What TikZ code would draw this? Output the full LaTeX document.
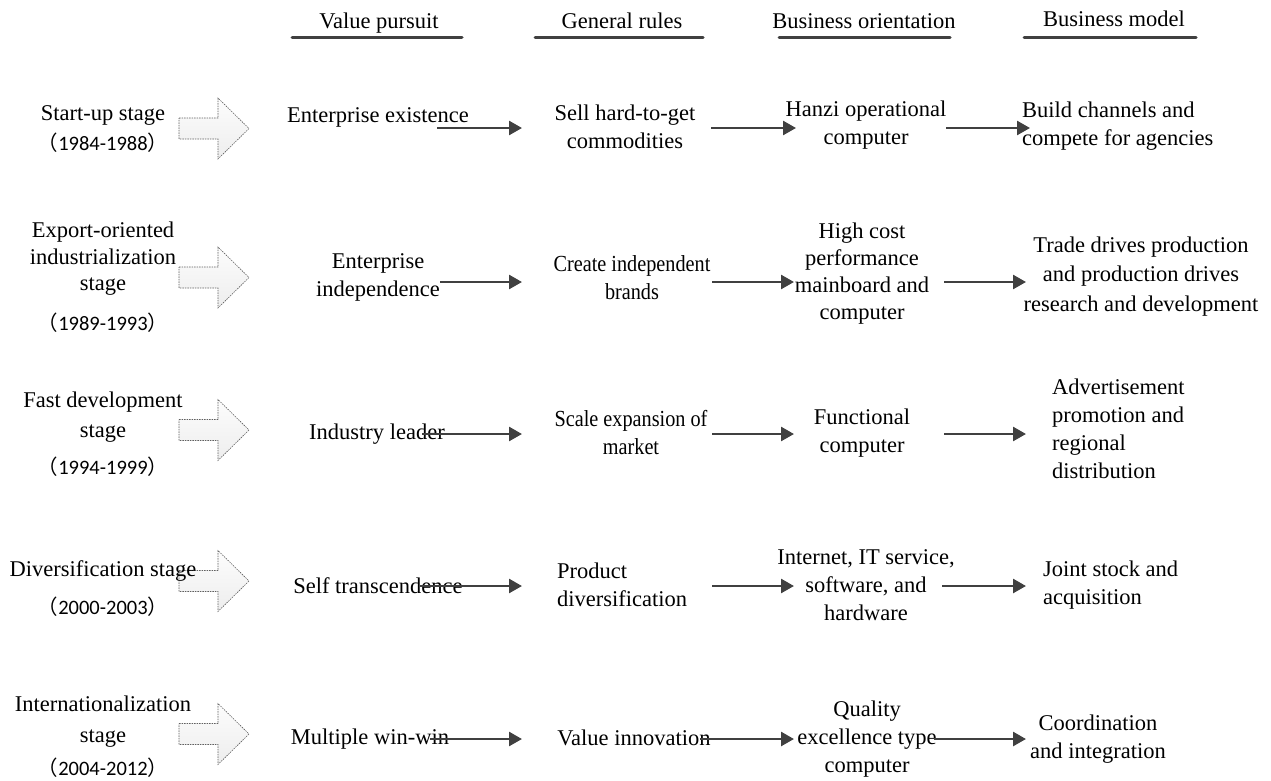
\documentclass[tikz,border=0pt]{standalone}
\usepackage{fontspec}
\setmainfont{Liberation Serif}
\newfontfamily\condfont[FakeStretch=0.88]{Liberation Serif}
\newfontfamily\yearfont{Carlito}
\newfontfamily\cjk{Noto Sans CJK SC}
\usetikzlibrary{arrows.meta}
\definecolor{dk}{HTML}{404040}
\newcommand{\yr}[1]{{\cjk （}{\yearfont #1}{\cjk ）}}
\begin{document}
\begin{tikzpicture}[x=1pt,y=-1pt,
  txt/.style={inner sep=0pt, font=\fontsize{22.5}{28}\selectfont, align=center},
  ctxt/.style={inner sep=0pt, font=\condfont\fontsize{23}{28}\selectfont, align=center},
  txtl/.style={txt, align=left, anchor=west},
  yrs/.style={inner sep=0pt, anchor=base, font=\fontsize{20.5}{24}\selectfont},
  conn/.style={draw=dk, line width=2.6pt, -{Triangle[length=13pt,width=14pt]}},
  hline/.style={draw=dk, line width=3pt, line cap=round},
  barrow/.style={draw=gray!75!black, line width=0.6pt, dash pattern=on 1.5pt off 1pt, top color=gray!2, bottom color=gray!14},
  barr/.pic={\path[barrow] (-35,-10.5) -- (4,-10.5) -- (4,-30.5) -- (35,0) -- (4,30.5) -- (4,10.5) -- (-35,10.5) -- cycle;}
]
\useasboundingbox (0,0) rectangle (1271,780);
% header
\node[txt, anchor=base] (h1) at (379,28) {Value pursuit};
\node[txt, anchor=base] (h2) at (622,28) {General rules};
\node[txt, anchor=base] (h3) at (864,28) {Business orientation};
\node[txt, anchor=base] (h4) at (1114,26) {Business model};
\draw[hline] (292,37) -- (462,37);
\draw[hline] (535,37) -- (703,37);
\draw[hline] (779,37) -- (950,37);
\draw[hline] (1024,37) -- (1196,37);
% block arrows
\foreach \c in {128.5,277.5,430,581,734} { \pic at (214,\c) {barr}; }
% stage labels
\node[txt, anchor=base] (s1) at (103,120.5) {Start-up stage};
\node[yrs] (y1) at (103,150) {\yr{1984-1988}};
\node[txt, font=\fontsize{22.5}{26.5}\selectfont] (s2) at (103,258.7) {Export-oriented\\industrialization\\stage};
\node[yrs] (y2) at (103,330) {\yr{1989-1993}};
\node[txt, font=\fontsize{22.5}{30}\selectfont] (s3) at (103,417.5) {Fast development\\stage};
\node[yrs] (y3) at (103,474) {\yr{1994-1999}};
\node[txt, anchor=base] (s4) at (103,576.5) {Diversification stage};
\node[yrs] (y4) at (103,614) {\yr{2000-2003}};
\node[txt, font=\fontsize{22.5}{31}\selectfont] (s5) at (103,722) {Internationalization\\stage};
\node[yrs] (y5) at (103,775) {\yr{2004-2012}};
% column 1
\node[txt, anchor=base] (c11) at (378,122) {Enterprise existence};
\node[txt] (c21) at (378,277) {Enterprise\\independence};
\node[txt, anchor=base] (c31) at (377,439.5) {Industry leader};
\node[txt, anchor=base] (c41) at (378,593.5) {Self transcendence};
\node[txt, anchor=base] (c51) at (370,744.5) {Multiple win-win};
% column 2
\node[txt] (c12) at (625,127) {Sell hard-to-get\\commodities};
\node[ctxt] (c22) at (632,278) {Create independent\\brands};
\node[ctxt] (c32) at (631,433) {Scale expansion of\\market};
\node[txtl] (c42) at (557,585) {Product\\diversification};
\node[txt, anchor=base] (c52) at (634,745) {Value innovation};
% column 3
\node[txt] (c13) at (866,125) {Hanzi operational\\computer};
\node[txt, font=\fontsize{22.5}{27}\selectfont] (c23) at (862,273.5) {High cost\\performance\\mainboard and\\computer};
\node[txt] (c33) at (862,433) {Functional\\computer};
\node[txt] (c43) at (866,585) {Internet, IT service,\\software, and\\hardware};
\node[txt] (c53) at (867,739) {Quality\\excellence type\\computer};
% column 4
\node[txtl] (c14) at (1022,126.5) {Build channels and\\compete for agencies};
\node[txt, font=\fontsize{22.5}{29.5}\selectfont] (c24) at (1141,276.3) {Trade drives production\\and production drives\\research and development};
\node[txtl] (c34) at (1052,428.5) {Advertisement\\promotion and\\regional\\distribution};
\node[txtl] (c44) at (1043,585) {Joint stock and\\acquisition};
\node[txt] (c54) at (1098,739) {Coordination\\and integration};
% connectors
\foreach \r/\y/\a/\ae/\b/\be/\c/\ce in {1/128/437/522/711/796/946/1030, 2/282/440/522/712/794/944/1026, 3/434/422/522/712/794/944/1026, 4/586/420/522/712/794/942/1026, 5/739/430/522/700/794/934/1026} {
  \coordinate (a\r s) at (\a,\y); \coordinate (a\r e) at (\ae,\y);
  \coordinate (b\r s) at (\b,\y); \coordinate (b\r e) at (\be,\y);
  \coordinate (d\r s) at (\c,\y); \coordinate (d\r e) at (\ce,\y);
  \draw[conn] (a\r s) -- (a\r e);
  \draw[conn] (b\r s) -- (b\r e);
  \draw[conn] (d\r s) -- (d\r e);
}
\end{tikzpicture}
\end{document}
